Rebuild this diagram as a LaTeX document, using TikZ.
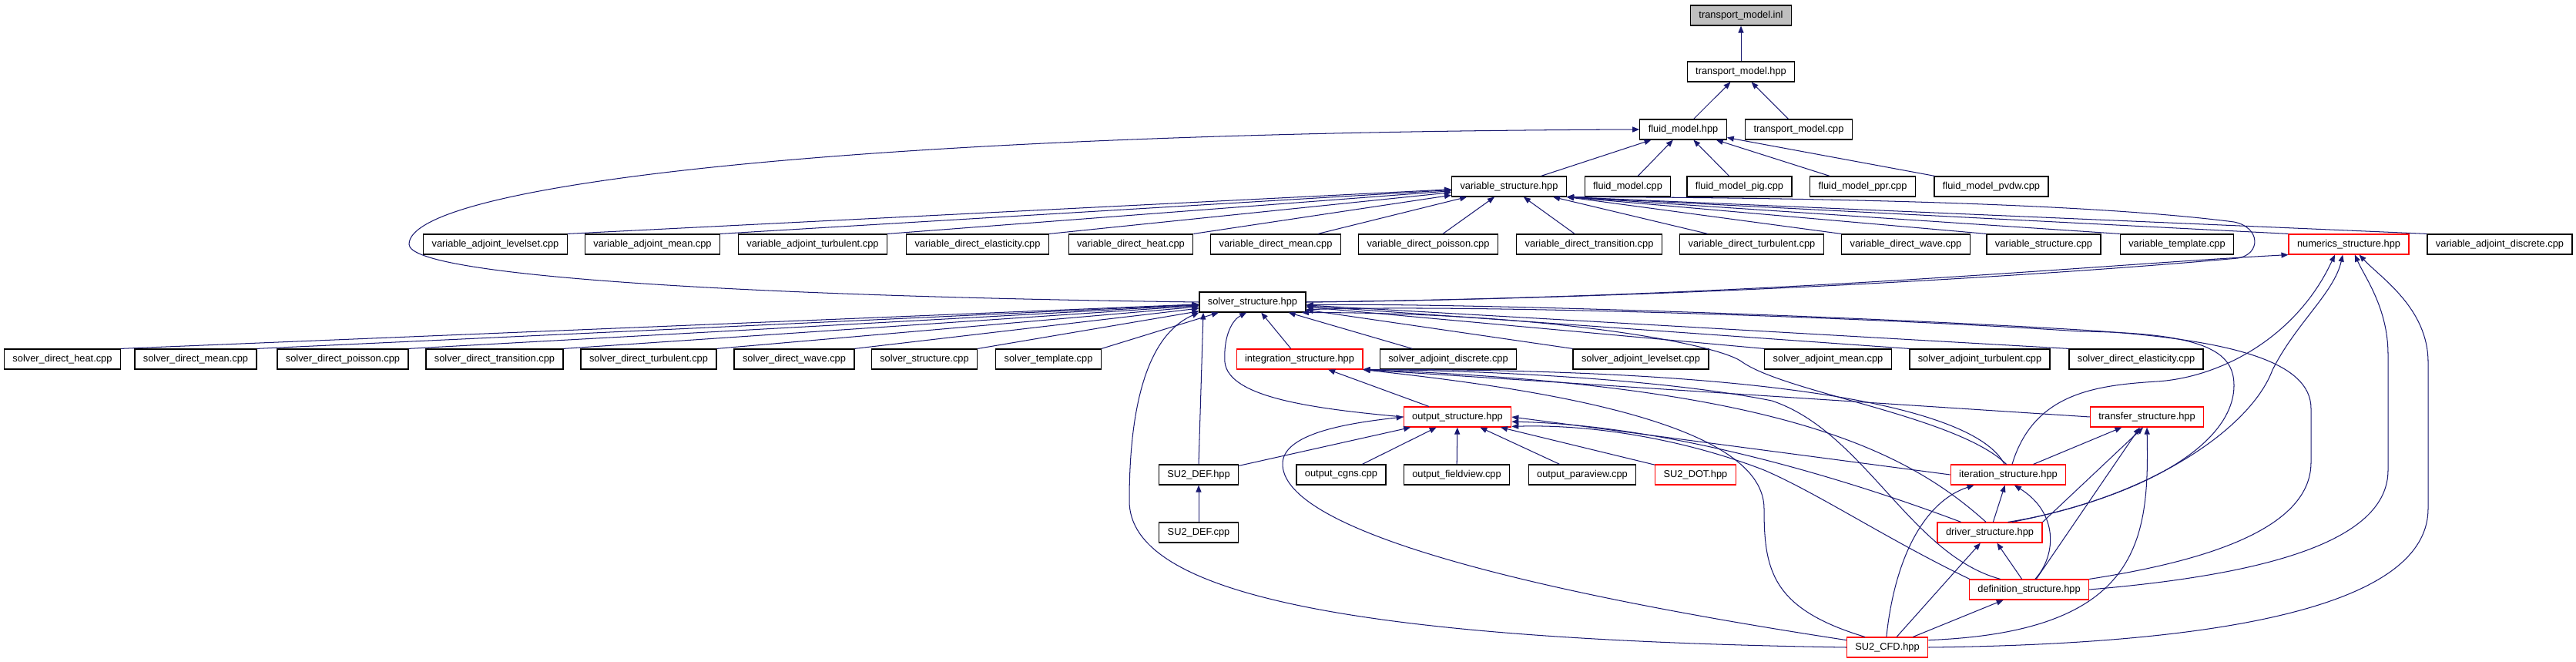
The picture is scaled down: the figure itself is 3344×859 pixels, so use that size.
\documentclass[tikz,border=0pt]{standalone}
\usepackage{fontspec}
\setmainfont{Liberation Sans}
\usetikzlibrary{arrows.meta}

\definecolor{edgeblue}{HTML}{191970}
\definecolor{truncred}{HTML}{FF0000}
\definecolor{rootgray}{HTML}{BFBFBF}

\begin{document}
\begin{tikzpicture}[x=0.0274cm, y=-0.0274cm,
    >={Triangle[length=7pt,width=5.5pt]},
    file/.style={draw=black, line width=1pt, fill=white, rectangle,
      minimum height=0.71cm, inner xsep=8.5pt, inner ysep=1pt,
      font=\fontsize{10}{12}\selectfont},
    trunc/.style={file, draw=truncred},
    root/.style={file, fill=rootgray},
    inc/.style={->, draw=edgeblue, line width=0.8pt}]
  \useasboundingbox (0,0) rectangle (3344,859);

  % Top of the graph
  \node[root] (tminl) at (2260,20) {transport\_model.inl};
  \node[file] (tmhpp) at (2260,93) {transport\_model.hpp};
  \node[file] (fluid) at (2185,168) {fluid\_model.hpp};
  \node[file] (tmcpp) at (2335,168) {transport\_model.cpp};

  % Fluid model files
  \node[file] (varstruct) at (1959,242) {variable\_structure.hpp};
  \node[file] (fmcpp) at (2113,242) {fluid\_model.cpp};
  \node[file] (fmpig) at (2258,242) {fluid\_model\_pig.cpp};
  \node[file] (fmppr) at (2418,242) {fluid\_model\_ppr.cpp};
  \node[file] (fmpvdw) at (2585,242) {fluid\_model\_pvdw.cpp};

  % Variable files
  \node[file] (valevel) at (643,317) {variable\_adjoint\_levelset.cpp};
  \node[file] (vamean) at (847,317) {variable\_adjoint\_mean.cpp};
  \node[file] (vaturb) at (1055,317) {variable\_adjoint\_turbulent.cpp};
  \node[file] (vdelast) at (1269,317) {variable\_direct\_elasticity.cpp};
  \node[file] (vdheat) at (1468,317) {variable\_direct\_heat.cpp};
  \node[file] (vdmean) at (1656,317) {variable\_direct\_mean.cpp};
  \node[file] (vdpoisson) at (1854,317) {variable\_direct\_poisson.cpp};
  \node[file] (vdtrans) at (2063,317) {variable\_direct\_transition.cpp};
  \node[file] (vdturb) at (2274,317) {variable\_direct\_turbulent.cpp};
  \node[file] (vdwave) at (2474,317) {variable\_direct\_wave.cpp};
  \node[file] (vscpp) at (2653,317) {variable\_structure.cpp};
  \node[file] (vtemplate) at (2826,317) {variable\_template.cpp};
  \node[trunc] (numerics) at (3049,317) {numerics\_structure.hpp};
  \node[file] (vadisc) at (3245,317) {variable\_adjoint\_discrete.cpp};

  % Solver files
  \node[file] (solver) at (1626,392) {solver\_structure.hpp};
  \node[file] (sdheat) at (81,466) {solver\_direct\_heat.cpp};
  \node[file] (sdmean) at (254,466) {solver\_direct\_mean.cpp};
  \node[file] (sdpoisson) at (445,466) {solver\_direct\_poisson.cpp};
  \node[file] (sdtrans) at (642,466) {solver\_direct\_transition.cpp};
  \node[file] (sdturb) at (842,466) {solver\_direct\_turbulent.cpp};
  \node[file] (sdwave) at (1031,466) {solver\_direct\_wave.cpp};
  \node[file] (sscpp) at (1200,466) {solver\_structure.cpp};
  \node[file] (stemplate) at (1361,466) {solver\_template.cpp};
  \node[trunc] (integration) at (1687,466) {integration\_structure.hpp};
  \node[file] (sadisc) at (1880,466) {solver\_adjoint\_discrete.cpp};
  \node[file] (salevel) at (2130,466) {solver\_adjoint\_levelset.cpp};
  \node[file] (samean) at (2373,466) {solver\_adjoint\_mean.cpp};
  \node[file] (saturb) at (2570,466) {solver\_adjoint\_turbulent.cpp};
  \node[file] (sdelast) at (2773,466) {solver\_direct\_elasticity.cpp};

  % Output and driver files
  \node[trunc] (output) at (1892,541) {output\_structure.hpp};
  \node[trunc] (transfer) at (2787,541) {transfer\_structure.hpp};
  \node[file] (su2defh) at (1556,616) {SU2\_DEF.hpp};
  \node[file] (cgns) at (1741,616) {output\_cgns.cpp};
  \node[file] (fieldview) at (1891,616) {output\_fieldview.cpp};
  \node[file] (paraview) at (2054,616) {output\_paraview.cpp};
  \node[trunc] (su2dot) at (2201,616) {SU2\_DOT.hpp};
  \node[trunc] (iteration) at (2607,616) {iteration\_structure.hpp};
  \node[file] (su2defcpp) at (1556,691) {SU2\_DEF.cpp};
  \node[trunc] (driver) at (2583,691) {driver\_structure.hpp};
  \node[trunc] (definition) at (2634,765) {definition\_structure.hpp};
  \node[trunc] (su2cfd) at (2450,840) {SU2\_CFD.hpp};

  % Transport model edges
  \draw[inc] (tmhpp) -- (tminl);
  \draw[inc] (fluid) -- (tmhpp);
  \draw[inc] (tmcpp) -- (tmhpp);
  \foreach \n in {varstruct,fmcpp,fmpig,fmppr,fmpvdw}
    \draw[inc] (\n) -- (fluid);
  \draw[inc] (solver.west) .. controls (1000,385) and (531,360) .. (531,317)
    .. controls (531,240) and (1100,172) .. (fluid.west);

  % Edges into variable_structure
  \foreach \n in {valevel,vamean,vaturb,vdelast,vdheat}
    \draw[inc] (\n.north east) -- (varstruct);
  \foreach \n in {vdmean,vdpoisson,vdtrans,vdturb}
    \draw[inc] (\n) -- (varstruct);
  \foreach \n in {vdwave,vscpp,vtemplate,numerics,vadisc}
    \draw[inc] (\n.north west) -- (varstruct.south east);
  \draw[inc] (solver.east) .. controls (2300,385) and (2800,345) .. (2905,335)
    .. controls (2935,330) and (2935,295) .. (2900,288)
    .. controls (2700,262) and (2300,256) .. (varstruct.south east);
  \draw[inc] (solver.east) .. controls (2300,385) and (2700,345) .. (numerics.south west);

  % Edges into solver_structure
  \foreach \n in {sdheat,sdmean,sdpoisson,sdtrans,sdturb,sdwave,sscpp,stemplate}
    \draw[inc] (\n.north east) -- (solver);
  \foreach \n in {salevel,samean,saturb,sdelast}
    \draw[inc] (\n.north west) -- (solver);
  \draw[inc] (sadisc) -- (solver);
  \draw[inc] (integration) -- (solver);
  \draw[inc] (su2defh.north) -- (solver.192);
  \draw[inc] (output.west) .. controls (1700,530) and (1595,515) .. (1590,470)
    .. controls (1588,435) and (1600,415) .. (solver.240);
  \draw[inc] (su2cfd.west) .. controls (1750,830) and (1466,770) .. (1466,650)
    .. controls (1466,500) and (1500,430) .. (solver.south west);
  \draw[inc] (iteration.100) .. controls (2540,540) and (2320,510) .. (2262,470)
    .. controls (2230,445) and (2000,405) .. (solver.-12);
  \draw[inc] (driver.25) .. controls (2800,640) and (2900,570) .. (2900,500)
    .. controls (2900,455) and (2860,432) .. (2700,430)
    .. controls (2400,410) and (1900,395) .. (solver.-8);
  \draw[inc] (definition.north east) .. controls (2850,730) and (3000,690) .. (3000,600)
    -- (3000,530) .. controls (3000,470) and (2900,440) .. (2700,428)
    .. controls (2400,410) and (1900,393) .. (solver.-3);

  % Edges into numerics_structure
  \draw[inc] (iteration.70) .. controls (2640,510) and (2720,500) .. (2800,495)
    .. controls (2880,490) and (2980,440) .. (numerics.-143);
  \draw[inc] (driver.30) .. controls (2780,650) and (2920,560) .. (2950,480)
    .. controls (2980,420) and (3030,380) .. (numerics.-120);
  \draw[inc] (definition.east) .. controls (2950,745) and (3100,700) .. (3100,610)
    -- (3100,460) .. controls (3100,400) and (3070,360) .. (numerics.-60);
  \draw[inc] (su2cfd.east) .. controls (2950,835) and (3152,770) .. (3152,660)
    -- (3152,470) .. controls (3152,400) and (3090,360) .. (numerics.-45);

  % Edges into output_structure
  \foreach \n in {cgns,fieldview,paraview,su2dot,su2defh}
    \draw[inc] (\n) -- (output);
  \draw[inc] (su2defcpp) -- (su2defh);
  \draw[inc] (iteration.west) -- (output.east);
  \draw[inc] (driver.160) .. controls (2420,630) and (2180,552) .. (output.-5);
  \draw[inc] (definition.170) .. controls (2450,700) and (2360,640) .. (2290,610)
    .. controls (2200,575) and (2080,550) .. (output.-10);
  \draw[inc] (su2cfd.170) .. controls (2000,770) and (1660,690) .. (1665,600)
    .. controls (1668,560) and (1760,548) .. (output.west);

  % Edges into integration_structure
  \draw[inc] (output) -- (integration);
  \draw[inc] (transfer.west) -- (integration.south east);
  \draw[inc] (iteration.110) .. controls (2560,520) and (2250,478) .. (integration.south east);
  \draw[inc] (driver.110) .. controls (2470,580) and (2300,500) .. (integration.south east);
  \draw[inc] (definition.160) .. controls (2480,720) and (2420,560) .. (2300,520)
    .. controls (2150,490) and (1900,480) .. (integration.south east);
  \draw[inc] (su2cfd.155) .. controls (2300,790) and (2290,740) .. (2290,660)
    .. controls (2290,540) and (1950,500) .. (integration.south east);

  % Edges into transfer, iteration, driver and definition
  \draw[inc] (iteration) -- (transfer);
  \draw[inc] (driver.north east) -- (transfer.250);
  \draw[inc] (definition) -- (transfer);
  \draw[inc] (su2cfd.10) .. controls (2780,820) and (2790,700) .. (transfer.south);
  \draw[inc] (driver) -- (iteration);
  \draw[inc] (definition.60) .. controls (2670,720) and (2672,665) .. (iteration.-60);
  \draw[inc] (su2cfd.95) .. controls (2460,720) and (2500,650) .. (iteration.197);
  \draw[inc] (definition) -- (driver);
  \draw[inc] (su2cfd) -- (driver);
  \draw[inc] (su2cfd) -- (definition);
\end{tikzpicture}
\end{document}
